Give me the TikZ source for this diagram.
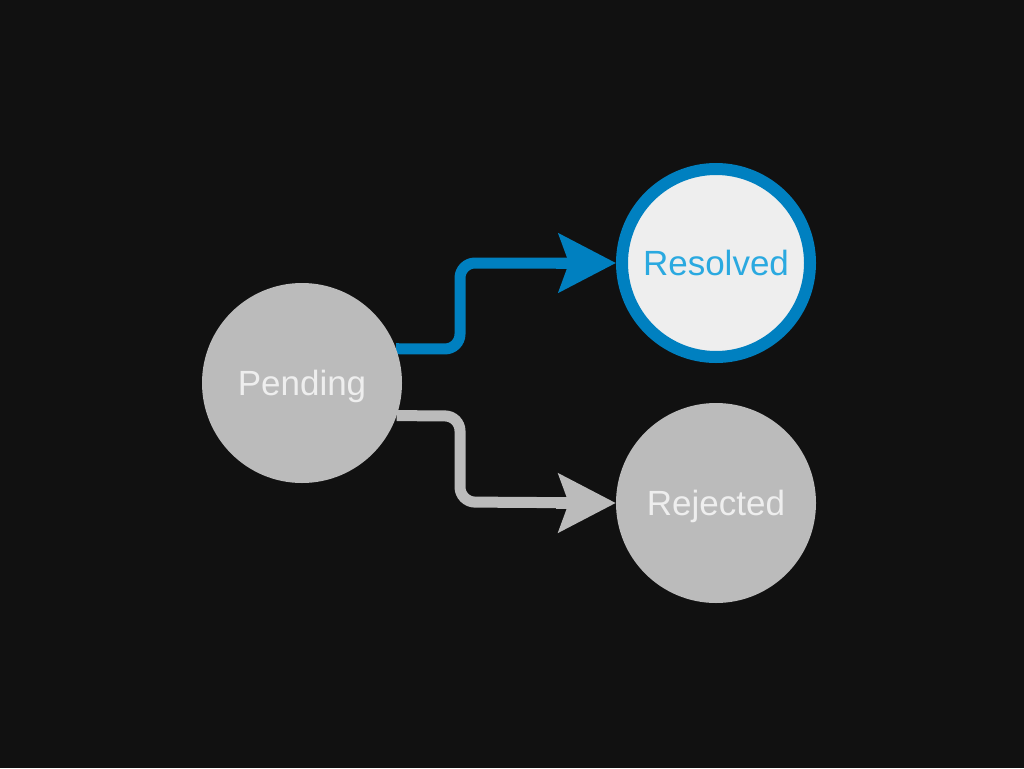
\documentclass[tikz,border=0pt]{standalone}
\usepackage{fontspec}
\setmainfont{Liberation Sans}
\usetikzlibrary{arrows.meta,calc}
\definecolor{bg}{HTML}{111111}
\definecolor{nodegray}{HTML}{BBBBBB}
\definecolor{labelgray}{HTML}{EEEEEE}
\definecolor{resblue}{HTML}{0080C0}
\definecolor{reslabel}{HTML}{2AA9E0}
\definecolor{resfill}{HTML}{EEEEEE}
\pgfdeclarelayer{back}
\pgfdeclarelayer{edges}
\pgfsetlayers{back,edges,main}
\tikzset{
  state/.style={circle, minimum size=200pt, inner sep=0pt, fill=nodegray, text=labelgray,
    font=\fontsize{35}{42}\selectfont, text height=25pt, text depth=0pt},
  active/.style={state, fill=resfill, draw=resblue, line width=12pt, minimum size=188pt, text=reslabel},
  edgeline/.style={line width=11pt, rounded corners=15pt, shorten >=45pt},
  edgetip/.style={line width=11pt, sharp corners,
    -{Stealth[length=57pt, width=58pt, inset=10pt]}},
}
\begin{document}
\begin{tikzpicture}[x=1pt,y=-1pt]
\begin{pgfonlayer}{back}
\fill[bg] (0,0) rectangle (1024,768);
\end{pgfonlayer}
\useasboundingbox (0,0) rectangle (1024,768);
\node[state] (pending) at (302,383) {Pending};
\node[active] (resolved) at (716,263) {Resolved};
\node[state] (rejected) at (716,503) {Rejected};
\begin{pgfonlayer}{edges}
\draw[edgeline, resblue] (pending.20) -- (460,349) -- (460,263) -- (resolved.west);
\draw[edgetip, resblue] ($(resolved.west)+(-60,0)$) -- (resolved.west);
\draw[edgeline, nodegray] (pending.-19.3) -- (460,416) -- (460,502) -- (rejected.west);
\draw[edgetip, nodegray] ($(rejected.west)+(-60,0)$) -- (rejected.west);
\end{pgfonlayer}
\end{tikzpicture}
\end{document}
